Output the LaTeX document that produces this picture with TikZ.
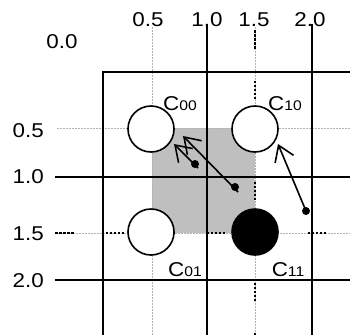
\documentclass[tikz,border=0pt]{standalone}
\usepackage{fontspec}
\setmainfont{Liberation Sans}[FakeStretch=1.12]
\usetikzlibrary{arrows.meta}

\tikzset{
  gridline/.style={line width=1.6pt},
  helpline/.style={gray!60, line width=0.6pt, dash pattern=on 2pt off 1pt},
  markline/.style={black, line width=1.3pt,
    dash pattern=on 2.5pt off 1.5pt on 2.5pt off 1.5pt on 2.5pt off 1.5pt on 2.5pt off 1.5pt on 2.5pt off 32pt},
  pix/.style={circle, draw, line width=1.6pt, minimum size=46pt, inner sep=0pt},
  sample/.style={circle, fill, inner sep=0pt, minimum size=8pt},
  vec/.style={line width=1.6pt, ->},
  lbl/.style={inner sep=0pt, font=\fontsize{20}{22}\selectfont},
}
\newcommand{\cname}[1]{C{\fontsize{14}{14}\selectfont #1}}

\begin{document}
\begin{tikzpicture}[x=1pt, y=-1pt, >={Straight Barb[length=15pt, width=20pt]}]
    \useasboundingbox (0,0) rectangle (350,335);

    % 1. Vung xam giua bon tam
    \fill[gray!50] (152,128) rectangle (255,233);

    % 2. Duong phu qua tam cac o
    \draw[helpline] (152,27) -- (152,335);
    \draw[helpline] (255,27) -- (255,335);
    \draw[helpline] (57,128) -- (350,128);
    \draw[helpline] (55,233) -- (350,233);
    \draw[markline] (255,30) -- (255,335);
    \draw[markline] (55,233) -- (350,233);

    % 3. Luoi o
    \draw[gridline] (103,335) -- (103,72) -- (350,72);
    \draw[gridline] (207,24) -- (207,335);
    \draw[gridline] (312,24) -- (312,335);
    \draw[gridline] (55,177) -- (350,177);
    \draw[gridline] (55,280) -- (350,280);

    % 4. Bon tam
    \node[pix, fill=white] (c00) at (151,129) {};
    \node[pix, fill=white] (c10) at (255,129) {};
    \node[pix, fill=white] (c01) at (151,232) {};
    \node[pix, fill=black] (c11) at (255,232) {};

    % 5. Diem mau va vecto
    \node[sample] (p1) at (195,164) {};
    \node[sample] (p2) at (235,187) {};
    \node[sample] (p3) at (306,211) {};
    \coordinate (s1) at (198,168);
    \coordinate (s2) at (238,192);
    \coordinate (t1) at (174,144);
    \coordinate (t2) at (183,136);
    \coordinate (t3) at (278,144);
    \draw[vec] (s1) -- (t1);
    \draw[vec] (s2) -- (t2);
    \draw[vec] (p3.center) -- (t3);

    % 6. Nhan
    \node[lbl] (l00) at (180,104) {\cname{00}};
    \node[lbl] (l10) at (285,104) {\cname{10}};
    \node[lbl] (l01) at (185,270) {\cname{01}};
    \node[lbl] (l11) at (288,270) {\cname{11}};

    \node[lbl] (o) at (62,42) {0.0};
    \node[lbl, anchor=base] (x05) at (148,26.5) {0.5};
    \node[lbl, anchor=base] (x10) at (207,26.5) {1.0};
    \node[lbl, anchor=base] (x15) at (254,26.5) {1.5};
    \node[lbl, anchor=base] (x20) at (310,26.5) {2.0};
    \node[lbl, anchor=east] (y05) at (44,131) {0.5};
    \node[lbl, anchor=east] (y10) at (44,177) {1.0};
    \node[lbl, anchor=east] (y15) at (44,234) {1.5};
    \node[lbl, anchor=east] (y20) at (44,281) {2.0};
\end{tikzpicture}
\end{document}
